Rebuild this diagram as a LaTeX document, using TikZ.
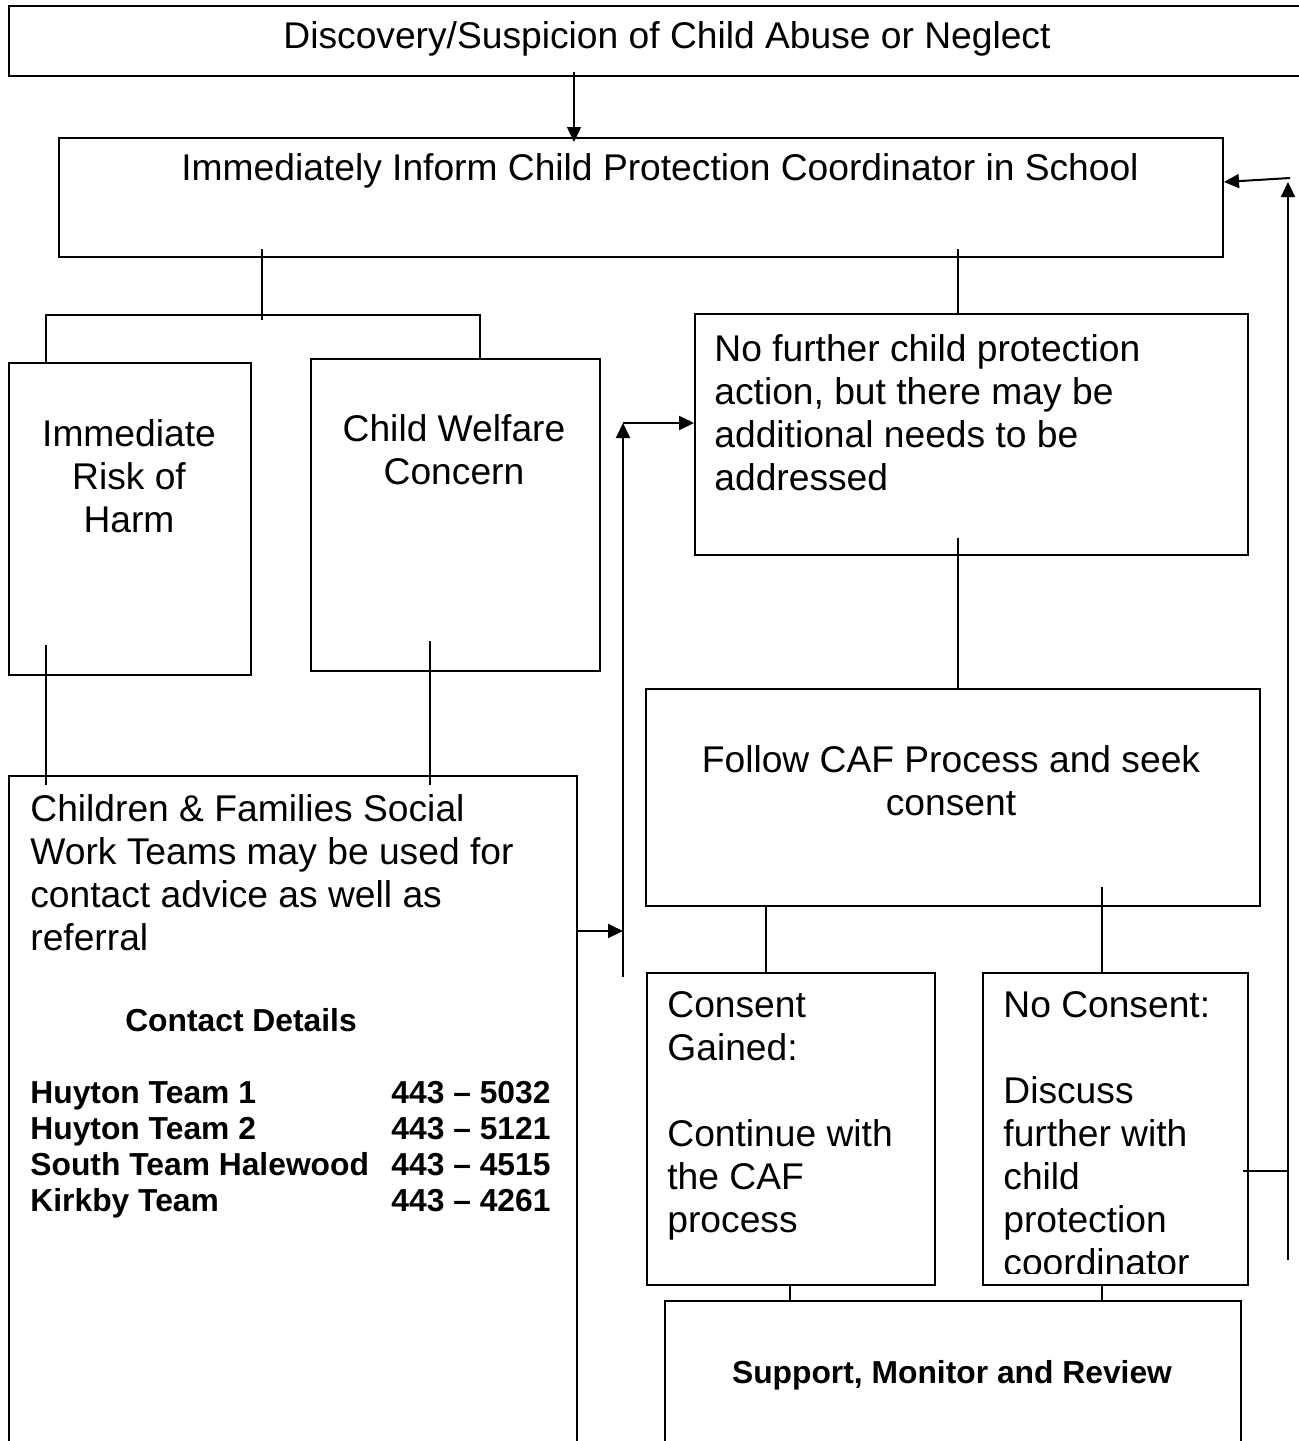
\documentclass[tikz,border=0pt]{standalone}
\usepackage{fontspec}
\setmainfont{Liberation Sans}
\usetikzlibrary{arrows.meta,calc}

\begin{document}
\begin{tikzpicture}[
  x=0.5pt, y=-0.5pt,
  box/.style={
    draw,
    line width=1pt,
    inner sep=0pt,
    anchor=north west
  },
  txt/.style={inner sep=0pt, font=\fontsize{18.6pt}{21.5pt}\selectfont},
  boldtxt/.style={inner sep=0pt, font=\fontsize{15.9pt}{18pt}\selectfont\bfseries},
  link/.style={line width=0.7pt},
  arrow/.style={line width=1pt, -{Triangle[length=7.5pt,width=7pt]}}
]
\useasboundingbox (0,0) rectangle (1299,1441);
\clip (0,0) rectangle (1299,1441);

% boxes
\node[box, minimum width=651pt, minimum height=35pt] (discovery) at (8,5) {};
\node[box, minimum width=582pt, minimum height=59.5pt] (inform) at (58,137) {};
\node[box, minimum width=121pt, minimum height=156pt] (risk) at (8,362) {};
\node[box, minimum width=144.5pt, minimum height=156pt] (welfare) at (310,358) {};
\node[box, minimum width=276.5pt, minimum height=120.5pt] (nofurther) at (694,313) {};
\node[box, minimum width=307pt, minimum height=108.5pt] (caf) at (645,688) {};
\node[box, minimum width=284pt, minimum height=345pt] (social) at (8,775) {};
\node[box, minimum width=144pt, minimum height=156pt] (gained) at (646,972) {};
\node[box, minimum width=132.5pt, minimum height=156pt] (noconsent) at (982,972) {};
\node[box, minimum width=288pt, minimum height=80pt] (support) at (664,1300) {};

% texts
\node[txt, anchor=base] (discoveryText) at (667,48) {Discovery/Suspicion of Child Abuse or Neglect};
\node[txt, anchor=base] (informText) at (660,180) {Immediately Inform Child Protection Coordinator in School};
\node[txt, anchor=north, align=center] (riskText) at (129,419) {Immediate\\Risk of\\Harm};
\node[txt, anchor=north, align=center] (welfareText) at (454,414) {Child Welfare\\Concern};
\node[txt, anchor=north west, align=left] (nofurtherText) at (714,334)
  {No further child protection\\action, but there may be\\additional needs to be\\addressed};
\node[txt, anchor=north, align=center] (cafText) at (951,745) {Follow CAF Process and seek\\consent};
\node[txt, anchor=north west, align=left] (socialText) at (30,794)
  {Children \& Families Social\\Work Teams may be used for\\contact advice as well as\\referral};
\node[boldtxt, anchor=base] (contactHead) at (241,1031) {Contact Details};
\node[boldtxt, anchor=north west, align=left] (teamNames) at (30,1081)
  {Huyton Team 1\\Huyton Team 2\\South Team Halewood\\Kirkby Team};
\node[boldtxt, anchor=north west, align=left] (teamPhones) at (391,1081)
  {443 – 5032\\443 – 5121\\443 – 4515\\443 – 4261};
\node[txt, anchor=north west, align=left] (gainedText) at (667,991)
  {Consent\\Gained:\\[21.5pt]Continue with\\the CAF\\process};
\begin{scope}
  \clip (982,972) rectangle (1247,1273);
  \node[txt, anchor=north west, align=left] (noconsentText) at (1003,991)
    {No Consent:\\[21.5pt]Discuss\\further with\\child\\protection\\coordinator};
\end{scope}
\node[boldtxt, anchor=base] (supportText) at (952,1383) {Support, Monitor and Review};

% connectors
\coordinate (splitL) at (46,315);
\coordinate (splitM) at (262,315);
\coordinate (splitR) at (480,315);
\coordinate (nfTop) at (958,313);
\coordinate (cafTop) at (958,688);
\coordinate (riskDrop) at (46,785);
\coordinate (welfareDrop) at (430,785);
\coordinate (gainedTop) at (766,972);
\coordinate (noTop) at (1102,972);
\coordinate (supL) at (790,1300);
\coordinate (supR) at (1102,1300);

\draw[link] ($(inform.south -| splitM)+(0,-9)$) -- ($(splitM)+(0,5)$);
\draw[link] (risk.north -| splitL) -- (splitL) -- (splitR) -- (welfare.north -| splitR);
\draw[link] ($(inform.south -| nfTop)+(0,-9)$) -- (nfTop);
\draw[link] ($(nofurther.south -| cafTop)+(0,-18)$) -- (cafTop);
\draw[link] ($(risk.south -| riskDrop)+(0,-31)$) -- (riskDrop);
\draw[link] ($(welfare.south -| welfareDrop)+(0,-31)$) -- (welfareDrop);
\draw[link] (caf.south -| gainedTop) -- (gainedTop);
\draw[link] ($(caf.south -| noTop)+(0,-20)$) -- (noTop);
\draw[link] (gained.south -| supL) -- (supL);
\draw[link] (noconsent.south -| supR) -- (supR);

% arrows
\coordinate (informIn) at (574,142);
\coordinate (loopIn) at (623,931);
\coordinate (loopBot) at (623,977);
\coordinate (loopTop) at (623,423);
\coordinate (retMid) at (1288,1171);
\coordinate (retBot) at (1288,1260);
\coordinate (retTop) at (1288,182);
\coordinate (retCorner) at (1290,178);

\draw[arrow, line width=0.7pt] ($(discovery.south -| informIn)+(0,-5)$) -- (informIn);
\draw[arrow] (social.east |- loopIn) -- (loopIn);
\draw[arrow] (loopBot) -- (loopTop);
\draw[arrow] (loopTop) -- (loopTop -| nofurther.west);
\draw[link] ($(noconsent.east |- retMid)+(-6,0)$) -- (retMid);
\draw[arrow] (retBot) -- (retTop);
\draw[arrow] (retCorner) -- (inform.east |- retTop);
\end{tikzpicture}
\end{document}
